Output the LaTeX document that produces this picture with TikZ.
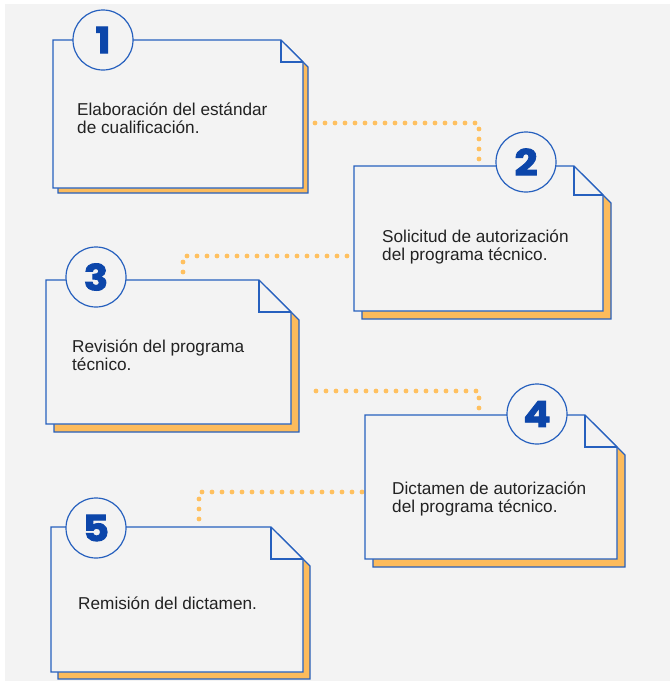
\documentclass[tikz,border=0pt]{standalone}
\usepackage{fontspec}
\setmainfont{Liberation Sans}
\newfontfamily\cifra{Poppins}[BoldFeatures={FakeBold=2.5,FakeStretch=1.12}]
\usetikzlibrary{positioning, calc}

\definecolor{fondo}{RGB}{243,243,243}
\definecolor{azul}{RGB}{38,96,190}
\definecolor{azulnum}{RGB}{12,70,170}
\definecolor{naranja}{RGB}{252,187,92}
\definecolor{punto}{RGB}{255,192,95}
\definecolor{tinta}{RGB}{34,34,34}

% hoja con esquina doblada: izq, arriba, der, abajo, doblez, sombra
\newcommand{\hoja}[6]{%
  \draw[sombra] ({#1+#6},{#2+#6}) -- ({#3-#5+#6},{#2+#6}) -- ({#3+#6},{#2+#5+#6})
    -- ({#3+#6},{#4+#6}) -- ({#1+#6},{#4+#6}) -- cycle;
  \draw[borde] (#1,#2) -- ({#3-#5},#2) -- (#3,{#2+#5}) -- (#3,#4) -- (#1,#4) -- cycle;
  \draw[doblez] ({#3-#5},#2) -- ({#3-#5},{#2+#5}) -- (#3,{#2+#5});
}

\begin{document}
\begin{tikzpicture}[x=1pt, y=-1pt,
    sombra/.style={draw=azul, line width=1.2pt, fill=naranja},
    borde/.style={draw=azul, line width=1.3pt, fill=fondo},
    doblez/.style={draw=azul, line width=1.3pt},
    numero/.style={draw=azul, line width=1.2pt, circle, fill=fondo, minimum size=60pt,
        inner sep=0pt, text=azulnum, font=\cifra\bfseries\fontsize{36}{36}\selectfont},
    texto/.style={anchor=west, align=left, inner sep=0pt, text=tinta,
        font=\fontsize{17.2}{17.5}\selectfont},
    puntos/.style={draw=punto, line width=4.8pt, line cap=round,
        dash pattern=on 0pt off 10pt}]
    \useasboundingbox (0,0) rectangle (670,681);
    \fill[white] (0,0) rectangle (670,681);
    \fill[fondo] (5,4) rectangle (670,681);

    % conectores
    \coordinate (a1) at (315,123);
    \coordinate (a2) at (479,164);
    \coordinate (b1) at (347,256);
    \coordinate (b2) at (183,279);
    \coordinate (c1) at (316,391);
    \coordinate (c2) at (479,414);
    \coordinate (d1) at (362,492);
    \coordinate (d2) at (199,526);
    \draw[puntos] (a1) -| (a2);
    \draw[puntos] (b1) -| (b2);
    \draw[puntos] (c1) -| (c2);
    \draw[puntos] (d1) -| (d2);

    % hojas
    \hoja{53}{40}{303}{188}{22}{5}
    \hoja{354}{166}{603}{311}{29}{8}
    \hoja{46}{280}{291}{424}{32}{8}
    \hoja{365}{415}{617}{559}{32}{8}
    \hoja{51}{527}{303}{672}{32}{7}

    \node[numero] (n1) at (103,40) {1};
    \node[texto] (t1) at (77,118) {Elaboración del estándar\\de cualificación.};

    \node[numero] (n2) at (526,162) {2};
    \node[texto] (t2) at (382,247) {Solicitud de autorización\\del programa técnico.};

    \node[numero] (n3) at (96,277) {3};
    \node[texto] (t3) at (72,355) {Revisión del programa\\técnico.};

    \node[numero] (n4) at (537,414) {4};
    \node[texto] (t4) at (392,499) {Dictamen de autorización\\del programa técnico.};

    \node[numero] (n5) at (96,528) {5};
    \node[texto] (t5) at (78,603) {Remisión del dictamen.};
\end{tikzpicture}
\end{document}
